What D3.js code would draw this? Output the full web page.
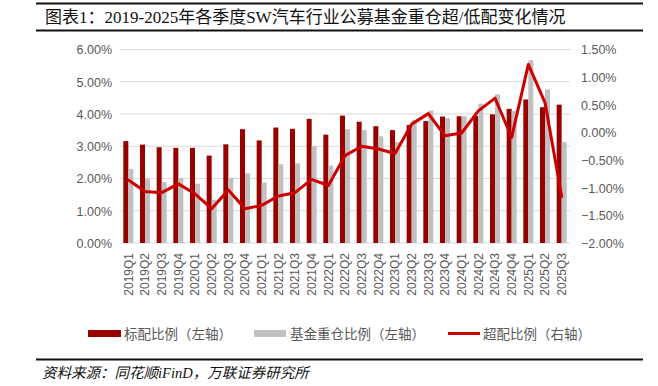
<!DOCTYPE html>
<html>
<head>
<meta charset="utf-8">
<script src="https://cdn.jsdelivr.net/npm/d3@7"></script>
<style>
  body { margin: 0; background: #fff; }
  svg { display: block; }
  .cn { font-family: "Liberation Serif", "Noto Sans CJK SC", serif; }
  .tick text { font-family: "Liberation Sans", Arial, sans-serif; fill: #595959; }
</style>
</head>
<body>
<div id="chart"></div>
<script>
// quarters
var categories = ["2019Q1","2019Q2","2019Q3","2019Q4","2020Q1","2020Q2","2020Q3","2020Q4",
  "2021Q1","2021Q2","2021Q3","2021Q4","2022Q1","2022Q2","2022Q3","2022Q4",
  "2023Q1","2023Q2","2023Q3","2023Q4","2024Q1","2024Q2","2024Q3","2024Q4",
  "2025Q1","2025Q2","2025Q3"];
// 标配比例 (left axis, %)
var benchmark = [3.16,3.05,2.97,2.95,2.95,2.71,3.06,3.53,3.18,3.58,3.54,3.85,3.36,3.95,
  3.76,3.62,3.50,3.66,3.78,3.92,3.93,3.94,3.99,4.16,4.45,4.21,4.29];
// 基金重仓比例 (left axis, %)
var fundHold = [2.30,1.98,1.89,2.01,1.84,1.34,2.02,2.16,1.87,2.44,2.47,3.00,2.40,3.53,
  3.50,3.31,3.13,3.81,4.11,3.87,3.93,4.32,4.61,4.09,5.67,4.76,3.13];
// 超配比例 (right axis, %)
var overWeight = [-0.86,-1.07,-1.09,-0.93,-1.11,-1.38,-1.04,-1.38,-1.32,-1.15,-1.09,-0.85,-0.96,-0.42,
  -0.25,-0.30,-0.38,0.15,0.34,-0.06,-0.01,0.39,0.62,-0.09,1.23,0.54,-1.16];
var leftTicks = [0,1,2,3,4,5,6];
var rightTicks = [-2,-1.5,-1,-0.5,0,0.5,1,1.5];

var W = 658, H = 386;
var svg = d3.select("#chart").append("svg").attr("width", W).attr("height", H);

// header / footer rules
svg.append("line").attr("x1", 36).attr("x2", 643).attr("y1", 3.5).attr("y2", 3.5)
  .attr("stroke", "#111").attr("stroke-width", 2);
svg.append("line").attr("x1", 36).attr("x2", 643).attr("y1", 30.5).attr("y2", 30.5)
  .attr("stroke", "#111").attr("stroke-width", 2);
svg.append("line").attr("x1", 36).attr("x2", 643).attr("y1", 359.5).attr("y2", 359.5)
  .attr("stroke", "#111").attr("stroke-width", 2);

svg.append("text").attr("class", "cn").attr("x", 45).attr("y", 23)
  .attr("font-size", 17).attr("fill", "#111")
  .text("图表1：2019-2025年各季度SW汽车行业公募基金重仓超/低配变化情况");

svg.append("text").attr("class", "cn").attr("x", 42).attr("y", 378)
  .attr("font-size", 14.5).attr("fill", "#111").attr("font-style", "italic")
  .text("资料来源：同花顺iFinD，万联证券研究所");

var x = d3.scaleBand().domain(categories).range([120, 570]).paddingInner(0.4).paddingOuter(0.2);
var x1 = d3.scaleBand().domain(["b", "f"]).range([0, x.bandwidth()]);
var yL = d3.scaleLinear().domain([0, 6]).range([243, 49.5]);
var yR = d3.scaleLinear().domain([-2, 1.5]).range([243, 49.5]);

// gridlines
svg.append("g").selectAll("line").data(leftTicks).enter().append("line")
  .attr("x1", 120).attr("x2", 570)
  .attr("y1", function(d) { return yL(d); }).attr("y2", function(d) { return yL(d); })
  .attr("stroke", "#d9d9d9").attr("stroke-width", 1);

// left axis
var gl = svg.append("g").attr("transform", "translate(112,0)")
  .call(d3.axisLeft(yL).tickValues(leftTicks).tickSize(0).tickPadding(0)
    .tickFormat(function(d) { return d.toFixed(2) + "%"; }));
gl.select(".domain").remove();
gl.selectAll(".tick text").attr("font-size", 12.5).attr("dy", "0.35em");

// right axis
var gr = svg.append("g").attr("transform", "translate(581,0)")
  .call(d3.axisRight(yR).tickValues(rightTicks).tickSize(0).tickPadding(0)
    .tickFormat(function(d) { return d3.format(".2f")(d).replace("-", "−") + "%"; }));
gr.select(".domain").remove();
gr.selectAll(".tick text").attr("font-size", 12.5).attr("dy", "0.35em");

// x labels
var gx = svg.append("g").attr("transform", "translate(0,253)")
  .call(d3.axisBottom(x).tickSize(0).tickPadding(0));
gx.select(".domain").remove();
gx.selectAll(".tick text").attr("font-size", 12)
  .attr("transform", "rotate(-90)").attr("text-anchor", "end")
  .attr("x", 0).attr("y", 0).attr("dy", "0.35em");

// bars
svg.append("g").selectAll("rect").data(benchmark).enter().append("rect")
  .attr("x", function(d, i) { return x(categories[i]) + x1("b"); })
  .attr("width", x1.bandwidth())
  .attr("y", function(d) { return yL(d); })
  .attr("height", function(d) { return yL(0) - yL(d); })
  .attr("fill", "#990000");

svg.append("g").selectAll("rect").data(fundHold).enter().append("rect")
  .attr("x", function(d, i) { return x(categories[i]) + x1("f"); })
  .attr("width", x1.bandwidth())
  .attr("y", function(d) { return yL(d); })
  .attr("height", function(d) { return yL(0) - yL(d); })
  .attr("fill", "#c0c0c0");

// line
var line = d3.line()
  .x(function(d, i) { return x(categories[i]) + x.bandwidth() / 2; })
  .y(function(d) { return yR(d); });
svg.append("path").datum(overWeight).attr("d", line)
  .attr("fill", "none").attr("stroke", "#cc0000").attr("stroke-width", 3)
  .attr("stroke-linejoin", "round").attr("stroke-linecap", "round");

// legend
var lg = svg.append("g");
lg.append("rect").attr("x", 88).attr("y", 330).attr("width", 33).attr("height", 7).attr("fill", "#990000");
lg.append("text").attr("class", "cn").attr("x", 124).attr("y", 338.5).attr("font-size", 13.5)
  .attr("fill", "#595959").text("标配比例（左轴）");
lg.append("rect").attr("x", 254).attr("y", 330).attr("width", 32).attr("height", 7).attr("fill", "#c0c0c0");
lg.append("text").attr("class", "cn").attr("x", 290).attr("y", 338.5).attr("font-size", 13.5)
  .attr("fill", "#595959").text("基金重仓比例（左轴）");
lg.append("line").attr("x1", 448).attr("x2", 480).attr("y1", 333.5).attr("y2", 333.5)
  .attr("stroke", "#cc0000").attr("stroke-width", 3);
lg.append("text").attr("class", "cn").attr("x", 483).attr("y", 338.5).attr("font-size", 13.5)
  .attr("fill", "#595959").text("超配比例（右轴）");
</script>
</body>
</html>
